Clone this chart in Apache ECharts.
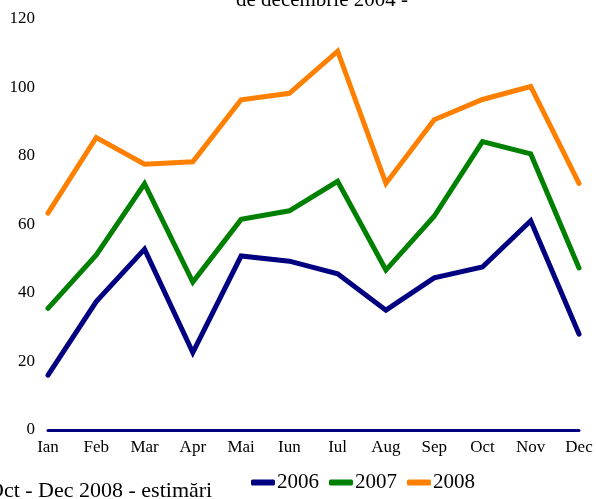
<!DOCTYPE html>
<html>
<head>
<meta charset="utf-8">
<script src="https://cdn.jsdelivr.net/npm/echarts@6/dist/echarts.min.js"></script>
<style>html,body{margin:0;padding:0;background:#fff}#c{width:596px;height:499px}</style>
</head>
<body>
<div id="c"></div>
<script>
var categories = ['Ian','Feb','Mar','Apr','Mai','Iun','Iul','Aug','Sep','Oct','Nov','Dec'];
var s2006 = [16, 37.5, 52.8, 22.6, 50.8, 49.3, 45.6, 35, 44.4, 47.6, 61.1, 28];
var s2007 = [35.5, 51.1, 71.9, 43.2, 61.5, 64, 72.6, 46.7, 62.4, 84.2, 80.6, 47.3];
var s2008 = [63.3, 85.4, 77.6, 78.3, 96.4, 98.3, 110.6, 72, 90.6, 96.5, 100.3, 72];
var seriesNames = ['2006','2007','2008'];
var titleText = 'de decembrie 2004 -';
var footnoteText = 'Oct - Dec 2008 - estimări';

var font = 'Liberation Serif, Times New Roman, serif';
var chart = echarts.init(document.getElementById('c'), null, {renderer:'canvas'});
function mk(name, data, color){
  return {
    name: name, type: 'line', data: data, showSymbol: false, symbol: 'none',
    lineStyle: {color: color, width: 5, cap: 'round', join: 'miter'},
    itemStyle: {color: color}, animation: false
  };
}
chart.setOption({
  animation: false,
  backgroundColor: '#fff',
  grid: {left: 48, right: 17, top: 19, bottom: 69, containLabel: false},
  xAxis: {
    type: 'category', data: categories, boundaryGap: false,
    axisLine: {show: true, lineStyle: {color: '#000080', width: 3, cap: 'round'}},
    axisTick: {show: false},
    axisLabel: {color: '#000', fontFamily: font, fontSize: 17, margin: 9, interval: 0},
    splitLine: {show: false}
  },
  yAxis: {
    type: 'value', min: 0, max: 120, interval: 20,
    axisLine: {show: false}, axisTick: {show: false},
    axisLabel: {color: '#000', fontFamily: font, fontSize: 17, margin: 13},
    splitLine: {show: false}
  },
  legend: {
    data: seriesNames, left: 246, top: 467, itemWidth: 24, itemHeight: 6, itemGap: 10,
    icon: 'roundRect',
    textStyle: {fontFamily: font, fontSize: 21, color: '#000', padding: [0,0,0,-3]}
  },
  graphic: [
    {type: 'text', style: {text: titleText, font: '21px ' + font, fill: '#000', x: 322, y: 11, textAlign: 'center', textVerticalAlign: 'bottom'}},
    {type: 'text', style: {text: footnoteText, font: '22px ' + font, fill: '#000', x: -12, y: 502, textAlign: 'left', textVerticalAlign: 'bottom'}}
  ],
  series: [mk(seriesNames[0], s2006, '#000080'), mk(seriesNames[1], s2007, '#008000'), mk(seriesNames[2], s2008, '#FF8000')]
});
</script>
</body>
</html>
